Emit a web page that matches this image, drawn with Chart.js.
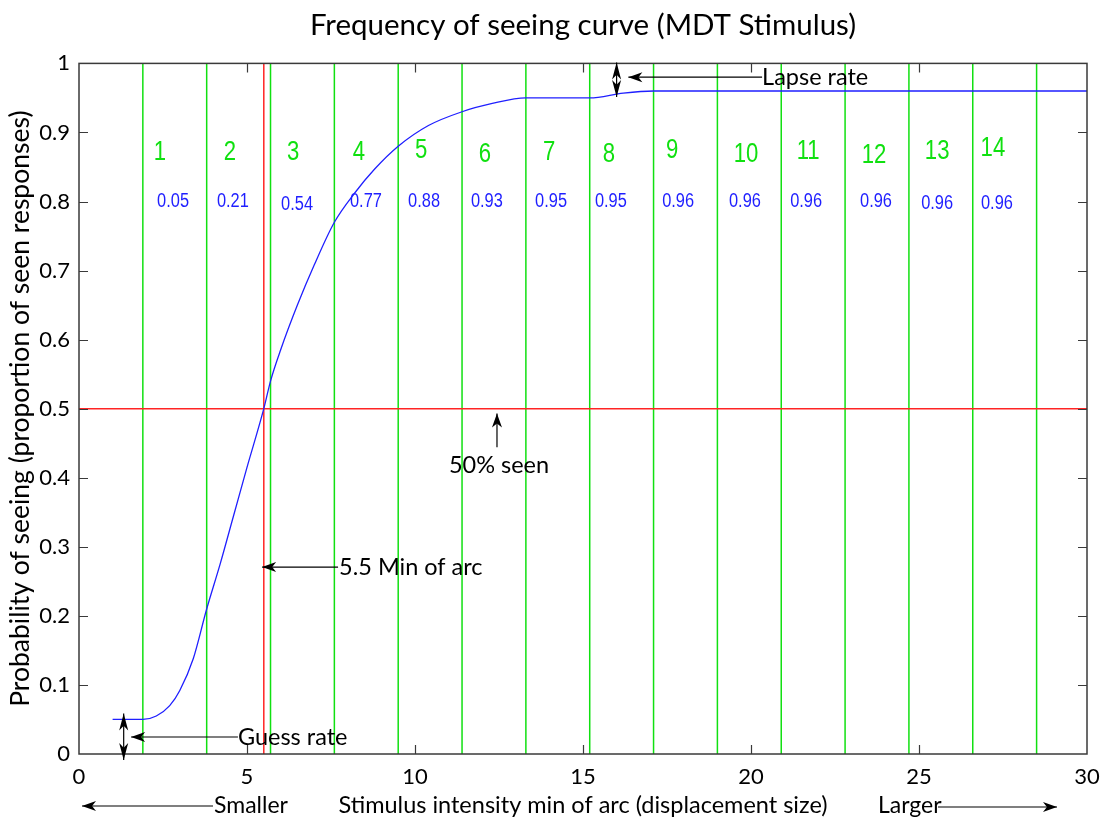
<!DOCTYPE html>
<html>
<head>
<meta charset="utf-8">
<script src="https://cdn.jsdelivr.net/npm/chart.js@4"></script>
<style>
  html, body { margin: 0; padding: 0; background: #fff; }
  canvas { display: block; }
</style>
</head>
<body>
<canvas id="fos" width="1102" height="825"></canvas>
<script>
// ---- Frequency-of-seeing samples (stimulus size in min of arc -> proportion seen)
const curveX = [1.0, 1.5, 1.9, 2.3, 2.7, 3.0, 3.4, 3.8, 4.2, 4.6, 5.0, 5.5, 5.7, 6.0, 6.5, 7.0, 7.6, 8.2, 8.8, 9.5, 10.4, 11.4, 12.3, 13.3, 15.2, 16.2, 17.1, 19.0, 22.8, 26.6, 30.0];
const curveY = [0.05, 0.05, 0.05, 0.055, 0.07, 0.092, 0.138, 0.21, 0.275, 0.345, 0.415, 0.50, 0.54, 0.585, 0.65, 0.708, 0.77, 0.812, 0.847, 0.88, 0.91, 0.93, 0.942, 0.95, 0.95, 0.957, 0.96, 0.96, 0.96, 0.96, 0.96];

// ---- Stimulus bins: boundaries, bin numbers and proportion seen at each boundary
const binEdges   = [1.9, 3.8, 5.7, 7.6, 9.5, 11.4, 13.3, 15.2, 17.1, 19.0, 20.9, 22.8, 24.7, 26.6, 28.5];
const binNumbers = ['1', '2', '3', '4', '5', '6', '7', '8', '9', '10', '11', '12', '13', '14'];
const binProbs   = [0.05, 0.21, 0.54, 0.77, 0.88, 0.93, 0.95, 0.95, 0.96, 0.96, 0.96, 0.96, 0.96, 0.96];

// ---- Threshold and asymptotes
const thresholdX = 5.5;   // min of arc at 50% seen
const thresholdY = 0.5;
const guessRate  = 0.05;
const lapseTop   = 1.0;
const lapseLevel = 0.96;

// ---- Axis ticks
const xTicks = [0, 5, 10, 15, 20, 25, 30];
const yTicks = [0, 0.1, 0.2, 0.3, 0.4, 0.5, 0.6, 0.7, 0.8, 0.9, 1];

// ---- Label placement (data coordinates) for the bin numbers and values
const numLabelX = [2.41, 4.49, 6.37, 8.33, 10.18, 12.08, 13.99, 15.77, 17.65, 19.85, 21.70, 23.66, 25.54, 27.20];
const numLabelY = [0.871, 0.871, 0.871, 0.871, 0.874, 0.868, 0.871, 0.868, 0.874, 0.868, 0.873, 0.867, 0.873, 0.876];
const valLabelX = [2.80, 4.58, 6.49, 8.54, 10.27, 12.14, 14.05, 15.83, 17.83, 19.82, 21.64, 23.72, 25.54, 27.32];
const valLabelY = [0.800, 0.800, 0.796, 0.800, 0.800, 0.800, 0.800, 0.800, 0.800, 0.800, 0.800, 0.800, 0.797, 0.797];

const CAL = 'Lato, "Open Sans", sans-serif';
const NARROW = '"Liberation Sans", Arial, sans-serif';
const BLUE = '#1f1fff';
const GREEN = '#10e010';
const RED = '#ff2424';

const datasets = [];
datasets.push({
  label: 'Frequency of seeing',
  data: curveX.map((x, i) => ({ x, y: curveY[i] })),
  borderColor: BLUE,
  borderWidth: 1.3,
  pointRadius: 0,
  cubicInterpolationMode: 'monotone',
  fill: false
});
datasets.push({
  label: 'threshold-h',
  data: [{ x: 0, y: thresholdY }, { x: 30, y: thresholdY }],
  borderColor: RED, borderWidth: 1.5, pointRadius: 0
});
datasets.push({
  label: 'threshold-v',
  data: [{ x: thresholdX, y: 0 }, { x: thresholdX, y: 1 }],
  borderColor: RED, borderWidth: 1.5, pointRadius: 0
});
binEdges.forEach((e, i) => {
  datasets.push({
    label: 'edge' + i,
    data: [{ x: e, y: 0 }, { x: e, y: 1 }],
    borderColor: GREEN, borderWidth: 1.5, pointRadius: 0
  });
});

function arrowHead(ctx, tx, ty, fx, fy, len, half) {
  const ang = Math.atan2(ty - fy, tx - fx);
  ctx.save();
  ctx.translate(tx, ty);
  ctx.rotate(ang);
  ctx.beginPath();
  ctx.moveTo(0, 0);
  ctx.lineTo(-len, -half);
  ctx.lineTo(-len * 0.72, 0);
  ctx.lineTo(-len, half);
  ctx.closePath();
  ctx.fill();
  ctx.restore();
}

function arrow(ctx, fx, fy, tx, ty, len, half) {
  ctx.beginPath();
  ctx.moveTo(fx, fy);
  ctx.lineTo(tx, ty);
  ctx.stroke();
  arrowHead(ctx, tx, ty, fx, fy, len, half);
}

function narrowText(ctx, text, x, y, size, color, squeeze) {
  ctx.save();
  ctx.translate(x, y);
  ctx.scale(squeeze, 1);
  ctx.font = size + 'px ' + NARROW;
  ctx.fillStyle = color;
  ctx.textAlign = 'center';
  ctx.textBaseline = 'middle';
  ctx.fillText(text, 0, 0);
  ctx.restore();
}

const overlay = {
  id: 'overlay',
  afterDatasetsDraw(chart) {
    const { ctx, chartArea: a, scales: { x, y } } = chart;
    ctx.save();

    // frame
    ctx.strokeStyle = '#3a3a3a';
    ctx.lineWidth = 1.5;
    ctx.strokeRect(a.left, a.top, a.right - a.left, a.bottom - a.top);

    // inward tick marks on all four sides
    const TL = 9;
    ctx.beginPath();
    xTicks.slice(1, -1).forEach(v => {
      const px = Math.round(x.getPixelForValue(v)) + 0.5;
      ctx.moveTo(px, a.bottom); ctx.lineTo(px, a.bottom - TL);
      ctx.moveTo(px, a.top); ctx.lineTo(px, a.top + TL);
    });
    yTicks.slice(1, -1).forEach(v => {
      const py = Math.round(y.getPixelForValue(v)) + 0.5;
      ctx.moveTo(a.left, py); ctx.lineTo(a.left + TL, py);
      ctx.moveTo(a.right, py); ctx.lineTo(a.right - TL, py);
    });
    ctx.lineWidth = 1.2;
    ctx.stroke();

    // bin numbers and proportions
    binNumbers.forEach((t, i) => {
      narrowText(ctx, t, x.getPixelForValue(numLabelX[i]), y.getPixelForValue(numLabelY[i]), 27, GREEN, 0.82);
    });
    binProbs.forEach((p, i) => {
      narrowText(ctx, p.toFixed(2), x.getPixelForValue(valLabelX[i]), y.getPixelForValue(valLabelY[i]), 20, BLUE, 0.82);
    });

    // annotations
    ctx.fillStyle = '#000';
    ctx.strokeStyle = '#000';
    ctx.lineWidth = 1.2;
    ctx.font = '23.5px ' + CAL;
    ctx.textBaseline = 'middle';

    // lapse rate: double arrow between 1 and the upper asymptote
    const lx = x.getPixelForValue(16.0);
    const lt = y.getPixelForValue(lapseTop) - 1;
    const lb = y.getPixelForValue(lapseLevel) + 6;
    const lm = (lt + lb) / 2;
    ctx.beginPath(); ctx.moveTo(lx, lt); ctx.lineTo(lx, lb); ctx.stroke();
    arrowHead(ctx, lx, lt, lx, lm, 17, 4.5);
    arrowHead(ctx, lx, lb, lx, lm, 17, 4.5);
    const lay = y.getPixelForValue(0.98);
    arrow(ctx, x.getPixelForValue(20.33), lay, x.getPixelForValue(16.35), lay, 14, 5);
    ctx.textAlign = 'left';
    ctx.fillText('Lapse rate', x.getPixelForValue(20.33), lay);

    // guess rate: double arrow between 0 and the lower asymptote
    const gx = x.getPixelForValue(1.33);
    const gt = y.getPixelForValue(guessRate) - 6;
    const gb = y.getPixelForValue(0) + 6;
    const gm = (gt + gb) / 2;
    ctx.beginPath(); ctx.moveTo(gx, gt); ctx.lineTo(gx, gb); ctx.stroke();
    arrowHead(ctx, gx, gt, gx, gm, 17, 4.5);
    arrowHead(ctx, gx, gb, gx, gm, 17, 4.5);
    const gay = y.getPixelForValue(0.0246);
    arrow(ctx, x.getPixelForValue(4.73), gay, x.getPixelForValue(1.55), gay, 14, 5);
    ctx.fillText('Guess rate', x.getPixelForValue(4.73), gay);

    // 50% seen
    const sx = x.getPixelForValue(12.44);
    arrow(ctx, sx, y.getPixelForValue(0.444), sx, y.getPixelForValue(0.493), 14, 5);
    ctx.textAlign = 'center';
    ctx.fillText('50% seen', x.getPixelForValue(12.5), y.getPixelForValue(0.418));

    // threshold size
    const ty = y.getPixelForValue(0.2706);
    arrow(ctx, x.getPixelForValue(7.71), ty, x.getPixelForValue(5.45), ty, 14, 5);
    ctx.textAlign = 'left';
    ctx.fillText('5.5 Min of arc', x.getPixelForValue(7.74), ty);

    ctx.restore();
  },
  afterDraw(chart) {
    // direction hints beside the x-axis title
    const { ctx } = chart;
    ctx.save();
    ctx.fillStyle = '#000';
    ctx.strokeStyle = '#000';
    ctx.lineWidth = 1.2;
    ctx.font = '23px ' + CAL;
    ctx.textBaseline = 'middle';
    const by = 806;
    ctx.textAlign = 'left';
    ctx.fillText('Smaller', 214, by);
    arrow(ctx, 213, by, 82, by, 14, 5);
    ctx.fillText('Larger', 878, by);
    arrow(ctx, 938, by + 1, 1057, by + 1, 14, 5);
    ctx.restore();
  }
};

new Chart(document.getElementById('fos'), {
  type: 'line',
  data: { datasets },
  options: {
    responsive: false,
    animation: false,
    events: [],
    layout: { padding: { left: 0, right: 15, top: 0, bottom: 0 } },
    plugins: {
      legend: { display: false },
      tooltip: { enabled: false },
      title: {
        display: true,
        fullSize: false,
        text: 'Frequency of seeing curve (MDT Stimulus)',
        color: '#000',
        font: { family: CAL, size: 29.5, weight: 'normal', lineHeight: 1.2 },
        padding: { top: 8, bottom: 20 }
      }
    },
    scales: {
      x: {
        type: 'linear', min: 0, max: 30,
        afterBuildTicks: s => { s.ticks = xTicks.map(v => ({ value: v })); },
        ticks: { color: '#000', font: { family: CAL, size: 22 }, padding: 10, maxRotation: 0,
                 callback: v => String(v) },
        grid: { display: false, drawTicks: false },
        border: { display: false },
        title: { display: true, text: 'Stimulus intensity min of arc (displacement size)', color: '#000',
                 font: { family: CAL, size: 23.5 }, padding: { top: 0, bottom: 5 } },
        afterFit: s => { s.height = 71; s.paddingRight = 0; s.paddingLeft = 0; }
      },
      y: {
        type: 'linear', min: 0, max: 1,
        afterBuildTicks: s => { s.ticks = yTicks.map(v => ({ value: v })); },
        ticks: { color: '#000', font: { family: CAL, size: 22 }, padding: 9,
                 callback: v => String(Math.round(v * 10) / 10) },
        grid: { display: false, drawTicks: false },
        border: { display: false },
        title: { display: true, text: 'Probability of seeing (proportion of seen responses)', color: '#000',
                 font: { family: CAL, size: 26.5 }, padding: { top: 5, bottom: 0 } },
        afterFit: s => { s.width = 79; s.paddingTop = 0; s.paddingBottom = 0; }
      }
    }
  },
  plugins: [overlay]
});
</script>
</body>
</html>
